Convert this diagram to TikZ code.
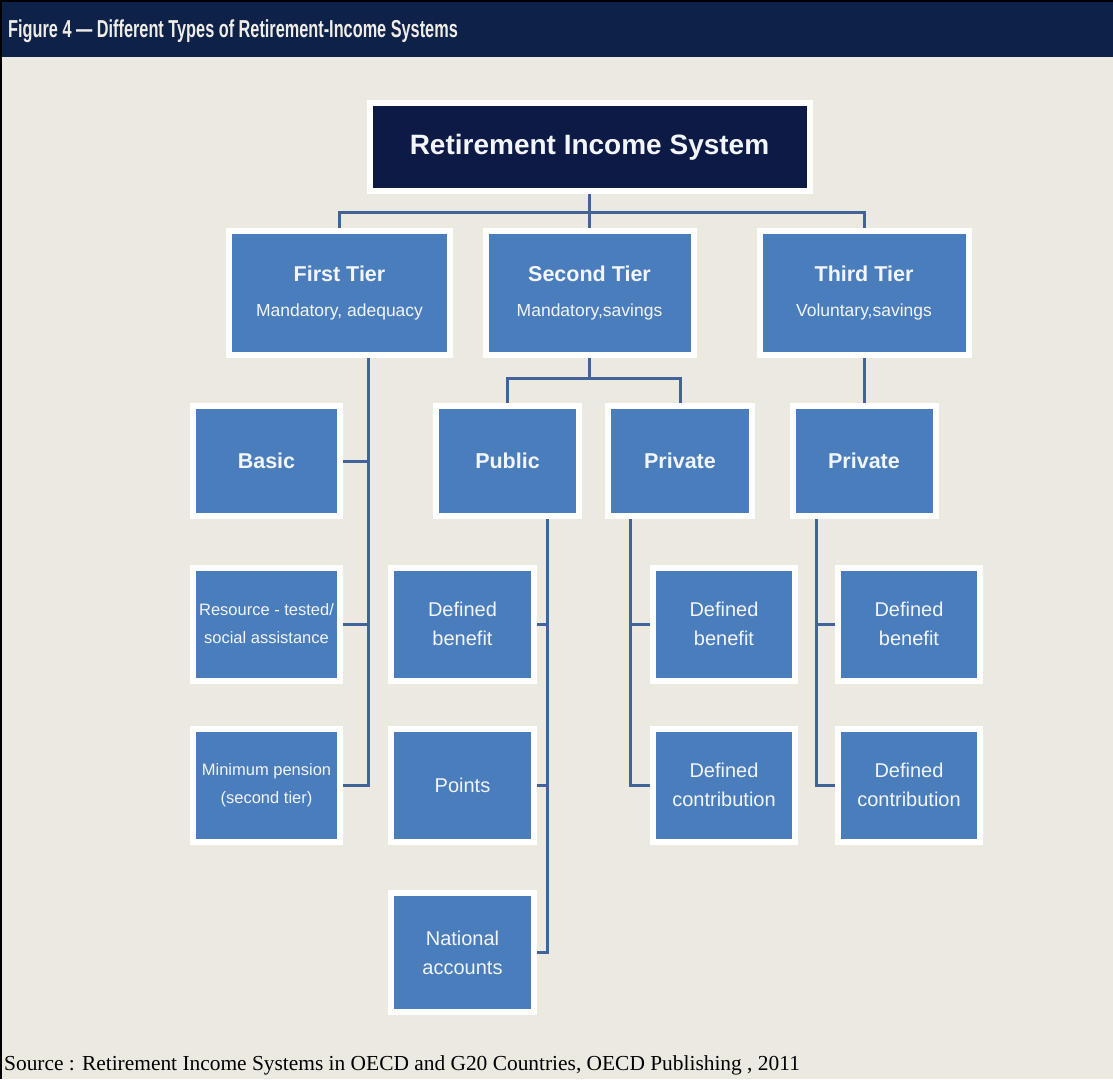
\documentclass[tikz,border=0pt]{standalone}
\usepackage{fontspec}
\setmainfont{Liberation Sans}
\newfontfamily\headfont[FakeStretch=0.665]{Liberation Sans}
\newfontfamily\srcfont{Liberation Serif}

\definecolor{pagebg}{HTML}{ECE9E0}
\definecolor{headnavy}{HTML}{0E2149}
\definecolor{topnavy}{HTML}{0D1A45}
\definecolor{boxblue}{HTML}{4A7DBC}
\definecolor{linkblue}{HTML}{42629A}
\definecolor{boxtext}{HTML}{F2F5FA}
\definecolor{headtext}{HTML}{EFEDE6}

\newcommand{\boldlbl}{\fontsize{21.5}{24}\selectfont\bfseries}
\newcommand{\sublbl}{\fontsize{17.5}{20}\selectfont}
\newcommand{\lowlbl}{\fontsize{20}{29}\selectfont}
\newcommand{\leftlbl}{\fontsize{16.5}{28}\selectfont}

\tikzset{
  box/.style={rectangle, fill=boxblue, draw=white, line width=6pt, outer sep=3pt,
    inner sep=0pt, text=boxtext, align=center},
  tierbox/.style={box, minimum width=#1, minimum height=124pt, font=\sublbl},
  kindbox/.style={box, minimum width=#1, minimum height=110pt, font=\boldlbl},
  planbox/.style={box, minimum width=#1, minimum height=113pt, font=\lowlbl},
  link/.style={draw=linkblue, line width=3pt},
}

\begin{document}
\begin{tikzpicture}[x=1pt,y=-1pt]
  \useasboundingbox (0,0) rectangle (1113,1079);
  \fill[pagebg] (0,0) rectangle (1113,1079);
  \fill[headnavy] (0,0) rectangle (1113,57);
  \draw[line width=2pt] (0,1) -- (1113,1);
  \draw[line width=2pt] (1,0) -- (1,1079);

  \node[anchor=base west, text=headtext, inner sep=0pt,
    font={\headfont\bfseries\fontsize{24.5}{27}\selectfont}] (title) at (8,37)
    {Figure 4 — Different Types of Retirement-Income Systems};

  \node[box, fill=topnavy, minimum width=440pt, minimum height=88pt,
    font={\fontsize{28}{30}\selectfont\bfseries}] (ris) at (589.5,147) {Retirement Income System};

  \node[tierbox=221pt] (tier1) at (339.5,293) {{\boldlbl First Tier}\\[15pt]Mandatory, adequacy};
  \node[tierbox=208pt] (tier2) at (589.5,293) {{\boldlbl Second Tier}\\[15pt]Mandatory,savings};
  \node[tierbox=209pt] (tier3) at (864,293) {{\boldlbl Third Tier}\\[15pt]Voluntary,savings};

  \node[kindbox=147pt] (basic) at (266.5,461) {Basic};
  \node[kindbox=143pt] (public) at (507.5,461) {Public};
  \node[kindbox=144pt] (priv2) at (680,461) {Private};
  \node[kindbox=143pt] (priv3) at (864,461) {Private};

  \node[planbox=147pt, font=\leftlbl] (resource) at (266.5,624) {Resource - tested/\\social assistance};
  \node[planbox=143pt] (pubdb) at (462.5,624) {Defined\\benefit};
  \node[planbox=142pt] (pdb2) at (724,624) {Defined\\benefit};
  \node[planbox=142pt] (pdb3) at (909,624) {Defined\\benefit};

  \node[planbox=147pt, font=\leftlbl] (minimum) at (266.5,785) {Minimum pension\\(second tier)};
  \node[planbox=143pt] (points) at (462.5,785) {Points};
  \node[planbox=142pt] (pdc2) at (724,785) {Defined\\contribution};
  \node[planbox=142pt] (pdc3) at (909,785) {Defined\\contribution};

  \node[planbox=143pt, minimum height=119pt] (national) at (462.5,952.5) {National\\accounts};

  \draw[link] (ris.south) -- (tier2.north);
  \draw[link] (ris.south) -- ++(0,18) -| (tier1.north);
  \draw[link] (ris.south) -- ++(0,18) -| (tier3.north);

  \coordinate (spine1) at ([xshift=28.5pt]tier1.south);
  \draw[link] (spine1) |- (minimum.east);
  \draw[link] (basic.east) -- (basic.east -| spine1);
  \draw[link] (resource.east) -- (resource.east -| spine1);

  \draw[link] (tier2.south) -- ++(0,20) -| (public.north);
  \draw[link] (tier2.south) -- ++(0,20) -| (priv2.north);
  \draw[link] (tier3.south) -- (priv3.north);

  \coordinate (spine2) at ([xshift=39.5pt]public.south);
  \draw[link] (spine2) |- (national.east);
  \draw[link] (pubdb.east) -- (pubdb.east -| spine2);
  \draw[link] (points.east) -- (points.east -| spine2);

  \coordinate (spine3) at ([xshift=-50pt]priv2.south);
  \draw[link] (spine3) |- (pdc2.west);
  \draw[link] (pdb2.west) -- (pdb2.west -| spine3);

  \coordinate (spine4) at ([xshift=-48pt]priv3.south);
  \draw[link] (spine4) |- (pdc3.west);
  \draw[link] (pdb3.west) -- (pdb3.west -| spine4);

  \node[anchor=base west, inner sep=0pt, font={\srcfont\fontsize{21.4}{24}\selectfont}] (source) at (4,1070)
    {Source : Retirement Income Systems in OECD and G20 Countries, OECD Publishing , 2011};
\end{tikzpicture}
\end{document}
